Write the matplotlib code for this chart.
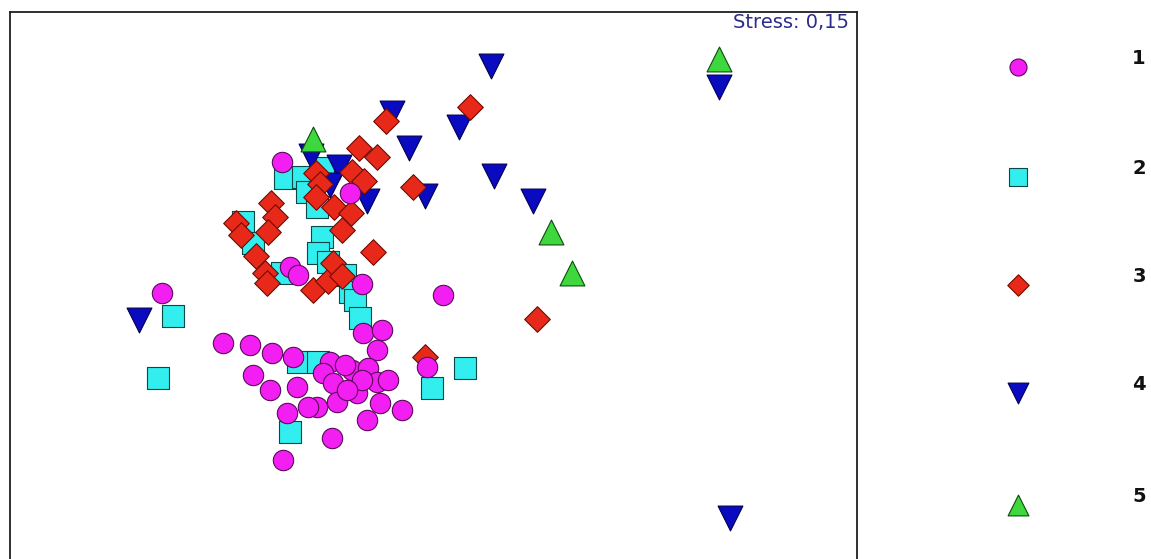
import matplotlib.pyplot as plt

# nMDS ordination, sample coordinates per group (y grows downwards)
g1_x = [162, 282, 350, 290, 298, 362, 443, 363, 382, 377, 223, 250, 272, 293, 330,
        253, 270, 297, 323, 333, 352, 368, 377, 388, 357, 337, 317, 308, 287, 380,
        402, 367, 332, 283, 427, 345, 362, 347]
g1_y = [293, 162, 193, 267, 275, 284, 295, 333, 330, 350, 343, 345, 353, 357, 362,
        375, 390, 387, 373, 383, 370, 368, 382, 380, 393, 402, 407, 407, 413, 403,
        410, 420, 438, 460, 367, 365, 380, 390]

g2_x = [173, 158, 290, 432, 465, 298, 318, 285, 303, 323, 307, 317, 243, 253, 322,
        318, 328, 282, 345, 350, 355, 360]
g2_y = [316, 378, 432, 388, 368, 362, 362, 178, 177, 168, 192, 207, 222, 243, 237,
        253, 262, 273, 275, 292, 300, 318]

g3_x = [470, 386, 359, 377, 316, 320, 352, 364, 316, 334, 351, 342, 413, 271, 275,
        236, 241, 268, 256, 265, 267, 373, 313, 328, 333, 342, 537, 425]
g3_y = [107, 121, 148, 157, 173, 184, 172, 181, 197, 207, 213, 230, 187, 203, 217,
        223, 235, 232, 256, 273, 283, 252, 290, 281, 263, 276, 319, 357]

g4_x = [491, 719, 392, 459, 409, 311, 339, 330, 367, 425, 494, 533, 139, 730]
g4_y = [66, 87, 113, 127, 148, 156, 167, 185, 201, 196, 176, 201, 320, 518]

g5_x = [313, 719, 551, 572]
g5_y = [139, 59, 232, 273]

labels = ["1", "2", "3", "4", "5"]
stress = "Stress: 0,15"

# marker, fill, edge, size
styles = {
    "1": ("o", "#f21ef2", "#5a0a5a", 215),
    "2": ("s", "#33eeee", "#0b4848", 255),
    "3": ("D", "#e8291a", "#6a0d05", 170),
    "4": ("v", "#0a0ac0", "#000050", 320),
    "5": ("^", "#3ed83e", "#0a4a0a", 320),
}
groups = {"1": (g1_x, g1_y), "2": (g2_x, g2_y), "3": (g3_x, g3_y),
          "4": (g4_x, g4_y), "5": (g5_x, g5_y)}

W, H = 1151, 559
fig = plt.figure(figsize=(W / 100, H / 100), dpi=100)
ax = fig.add_axes([10 / W, -3 / H, (857 - 10) / W, (562 - 12) / H])
ax.set_xlim(10, 857)
ax.set_ylim(562, 12)
ax.set_xticks([])
ax.set_yticks([])
for s in ax.spines.values():
    s.set_color("#202020")
    s.set_linewidth(1.3)

# draw order: squares, down-triangles, diamonds, circles, up-triangles
for key, z in [("2", 2), ("4", 3), ("3", 4), ("1", 5), ("5", 6)]:
    m, fc, ec, sz = styles[key]
    xs, ys = groups[key]
    ax.scatter(xs, ys, marker=m, s=sz, facecolor=fc, edgecolor=ec,
               linewidths=0.8, zorder=z)

ax.text(849, 22, stress, ha="right", va="center", fontsize=14,
        color="#2c2c8c", family="DejaVu Sans")

# legend column on the right
lax = fig.add_axes([870 / W, 0, (W - 870) / W, 1])
lax.set_xlim(870, W)
lax.set_ylim(H, 0)
lax.axis("off")
leg_y = [67, 177, 285, 393, 505]
for key, y in zip(labels, leg_y):
    m, fc, ec, sz = styles[key]
    lax.scatter([1018], [y], marker=m, s=sz * 0.7, facecolor=fc, edgecolor=ec,
                linewidths=0.8)
    lax.text(1139, y - 9, key, ha="center", va="center", fontsize=14,
             fontweight="bold", color="#111111")

fig.savefig("out.png", dpi=100)
